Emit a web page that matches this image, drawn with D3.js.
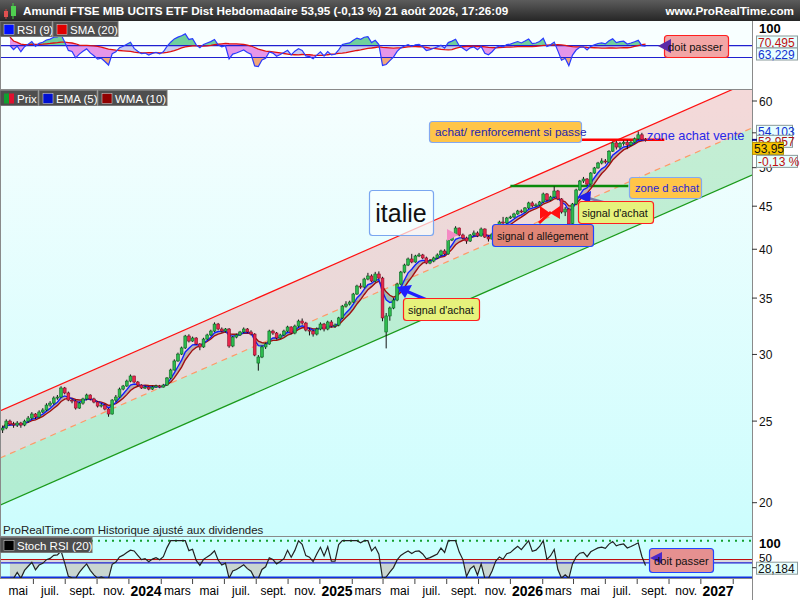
<!DOCTYPE html>
<html>
<head>
<meta charset="utf-8">
<script src="https://cdn.jsdelivr.net/npm/d3@7"></script>
<style>
  body { margin: 0; background: #fff; }
  svg { display: block; font-family: "Liberation Sans", Arial, sans-serif; }
</style>
</head>
<body>
<svg id="chart" width="800" height="600"></svg>
<script>
// Weekly candles, Amundi FTSE MIB.
const firstWeek = new Date(Date.UTC(2023, 3, 3));

const closes = [
  24.53, 25.00, 24.80, 24.73, 24.87, 24.73, 25.00, 25.21, 25.49, 25.28,
  25.63, 25.77, 26.12, 26.26, 26.63, 26.70, 27.37, 27.00, 26.48, 26.41,
  25.91, 26.26, 26.56, 26.85, 26.56, 26.34, 26.05, 26.12, 25.84, 25.49,
  26.48, 26.70, 27.29, 27.52, 27.89, 28.28, 27.82, 27.59, 27.37, 27.44,
  27.29, 27.44, 27.52, 27.44, 27.59, 28.13, 28.75, 29.47, 30.03, 30.54,
  31.55, 31.12, 31.38, 30.87, 30.62, 31.29, 31.64, 31.98, 32.60, 32.16,
  31.98, 32.16, 30.70, 31.46, 31.64, 31.90, 32.16, 31.90, 31.72, 29.95,
  29.79, 30.62, 30.87, 31.98, 31.81, 31.38, 31.64, 31.98, 32.34, 31.81,
  32.42, 32.87, 32.69, 32.07, 31.98, 31.72, 32.16, 32.60, 32.16, 32.78,
  32.42, 32.51, 33.15, 34.24, 34.43, 34.62, 35.39, 36.17, 36.07, 36.87,
  37.18, 36.67, 37.38, 36.97, 33.15, 33.33, 34.06, 34.81, 36.37, 37.58,
  38.31, 38.95, 38.63, 39.27, 39.38, 39.06, 38.52, 38.73, 39.06, 39.38,
  39.81, 39.49, 41.02, 41.59, 42.39, 41.59, 41.25, 40.91, 41.59, 41.82,
  41.48, 42.28, 41.36, 41.14, 41.70, 42.63, 43.09, 42.98, 43.57, 43.69,
  44.05, 44.41, 44.29, 44.78, 45.40, 45.03, 45.15, 45.52, 46.53, 45.77,
  46.15, 46.91, 45.90, 44.29, 44.65, 42.86, 45.27, 47.04, 48.21, 48.47,
  47.81, 49.27, 49.96, 50.64, 50.92, 50.78, 52.30, 53.50, 52.90, 53.40,
  53.60, 53.20, 53.60, 54.10, 54.70, 54.02, 53.95
];
const opens = [
  24.40, 24.53, 25.00, 24.80, 24.73, 24.87, 24.73, 25.00, 25.21, 25.49,
  25.28, 25.63, 25.77, 26.12, 26.26, 26.63, 26.70, 27.37, 27.00, 26.48,
  26.41, 25.91, 26.26, 26.56, 26.85, 26.56, 26.34, 26.05, 26.12, 25.84,
  25.49, 26.48, 26.70, 27.29, 27.52, 27.89, 28.28, 27.82, 27.59, 27.37,
  27.44, 27.29, 27.44, 27.52, 27.44, 27.59, 28.13, 28.75, 29.47, 30.03,
  30.54, 31.55, 31.12, 31.38, 30.87, 30.62, 31.29, 31.64, 31.98, 32.60,
  32.16, 31.98, 32.16, 30.70, 31.46, 31.64, 31.90, 32.16, 31.90, 31.72,
  29.30, 29.79, 30.62, 30.87, 31.98, 31.81, 31.38, 31.64, 31.98, 32.34,
  31.81, 32.42, 32.87, 32.69, 32.07, 31.98, 31.72, 32.16, 32.60, 32.16,
  32.78, 32.42, 32.51, 33.15, 34.24, 34.43, 34.62, 35.39, 36.17, 36.07,
  36.87, 37.18, 36.67, 37.38, 36.97, 31.90, 33.33, 34.06, 34.81, 36.37,
  37.58, 38.31, 38.95, 38.63, 39.27, 39.38, 39.06, 38.52, 38.73, 39.06,
  39.38, 39.81, 39.49, 41.02, 41.59, 42.39, 41.59, 41.25, 40.91, 41.59,
  41.82, 41.48, 42.28, 41.36, 41.14, 41.70, 42.63, 43.09, 42.98, 43.57,
  43.69, 44.05, 44.41, 44.29, 44.78, 45.40, 45.03, 45.15, 45.52, 46.53,
  45.77, 46.15, 46.91, 45.90, 44.29, 44.65, 42.90, 45.27, 47.04, 48.21,
  48.47, 47.81, 49.27, 49.96, 50.64, 50.92, 50.78, 52.30, 53.50, 52.90,
  53.40, 53.60, 53.20, 53.60, 54.10, 54.70, 54.02
];
const highs = [
  24.70, 25.12, 25.10, 24.95, 25.00, 24.95, 25.10, 25.35, 25.62, 25.55,
  25.75, 25.90, 26.25, 26.40, 26.75, 26.85, 27.50, 27.45, 27.10, 26.60,
  26.50, 26.35, 26.65, 26.95, 26.90, 26.65, 26.40, 26.25, 26.20, 25.90,
  26.55, 26.85, 27.40, 27.60, 28.00, 28.40, 28.30, 27.90, 27.65, 27.55,
  27.50, 27.55, 27.62, 27.60, 27.68, 28.20, 28.85, 29.60, 30.15, 30.65,
  31.65, 31.70, 31.50, 31.45, 30.95, 31.40, 31.75, 32.10, 32.75, 32.70,
  32.30, 32.25, 32.25, 31.55, 31.75, 32.00, 32.30, 32.25, 32.05, 31.80,
  29.95, 30.75, 31.00, 32.10, 32.10, 31.90, 31.75, 32.10, 32.45, 32.40,
  32.55, 33.00, 33.10, 32.80, 32.25, 32.10, 32.30, 32.75, 32.70, 32.90,
  32.95, 32.65, 33.25, 34.35, 34.70, 34.75, 35.50, 36.30, 36.45, 37.00,
  37.50, 37.35, 37.60, 37.65, 37.10, 33.60, 34.20, 35.00, 36.50, 37.70,
  38.45, 39.10, 39.50, 39.40, 39.60, 39.50, 39.20, 38.95, 39.20, 39.55,
  39.95, 40.00, 41.15, 41.80, 42.60, 42.45, 41.75, 41.40, 41.70, 42.10,
  42.00, 42.45, 42.35, 41.50, 41.85, 42.80, 43.25, 43.70, 43.70, 43.85,
  44.20, 44.55, 44.60, 44.90, 45.55, 45.60, 45.35, 45.65, 46.70, 46.65,
  46.30, 47.50, 47.05, 46.00, 44.90, 44.80, 45.40, 47.20, 48.35, 48.75,
  48.60, 49.40, 50.10, 50.80, 51.30, 51.20, 52.45, 53.70, 53.80, 53.65,
  53.85, 53.90, 53.80, 54.30, 55.20, 55.00, 54.20
];
const lows = [
  24.20, 24.45, 24.70, 24.55, 24.60, 24.55, 24.65, 24.90, 25.10, 25.15,
  25.20, 25.55, 25.70, 26.00, 26.15, 26.50, 26.65, 26.90, 26.40, 26.25,
  25.80, 25.85, 26.15, 26.45, 26.45, 26.25, 25.95, 25.95, 25.75, 25.30,
  25.45, 26.35, 26.65, 27.20, 27.45, 27.80, 27.75, 27.50, 27.30, 27.30,
  27.20, 27.22, 27.38, 27.35, 27.40, 27.55, 28.05, 28.70, 29.40, 29.95,
  30.45, 31.00, 31.05, 30.80, 30.35, 30.55, 31.20, 31.55, 31.90, 32.05,
  31.85, 31.85, 30.55, 30.60, 31.35, 31.55, 31.80, 31.80, 31.60, 29.85,
  28.70, 29.70, 30.45, 30.80, 31.65, 31.25, 31.30, 31.55, 31.90, 31.70,
  31.70, 32.30, 32.55, 31.95, 31.60, 31.50, 31.60, 32.05, 31.95, 32.05,
  32.30, 32.25, 32.40, 33.05, 34.10, 34.30, 34.55, 35.30, 35.90, 35.95,
  36.75, 36.55, 36.55, 36.85, 32.85, 30.50, 32.90, 33.95, 34.70, 36.25,
  37.45, 38.20, 38.50, 38.55, 39.15, 38.95, 38.40, 38.40, 38.60, 38.95,
  39.25, 39.35, 39.40, 40.90, 41.50, 41.45, 41.10, 40.60, 40.80, 41.45,
  41.35, 41.40, 41.25, 40.85, 41.05, 41.60, 42.50, 42.85, 42.90, 43.45,
  43.55, 43.95, 44.15, 44.20, 44.65, 44.85, 44.90, 45.05, 45.40, 45.60,
  45.65, 46.05, 45.75, 44.10, 43.80, 41.70, 42.80, 45.15, 46.95, 47.95,
  47.60, 47.70, 49.15, 49.85, 50.45, 50.55, 50.70, 52.20, 52.55, 52.60,
  53.10, 52.60, 53.05, 53.45, 53.95, 53.85, 53.70
];

// regression channel drawn on the chart (two ends)
const channelDates = [new Date(Date.UTC(2023, 2, 29)), new Date(Date.UTC(2027, 2, 9))];
const channelUpper = [25.7, 63.4];
const channelLower = [19.87, 49.0];

// horizontal drawn levels
const levelNames = ['zone achat vente', 'zone d achat'];
const levelPrices = [53.98, 47.55];
const levelStarts = [new Date(Date.UTC(2026, 3, 17)), new Date(Date.UTC(2025, 11, 1))];
const levelEnds = [new Date(Date.UTC(2026, 8, 22)), new Date(Date.UTC(2026, 6, 15))];

const priceTicks = [20, 25, 30, 35, 40, 45, 50, 55, 60];
const priceTickLabels = [20, 25, 30, 35, 40, 45, 50, 60];
const monthNames = ['janv.', 'févr.', 'mars', 'avr.', 'mai', 'juin', 'juil.', 'août', 'sept.', 'oct.', 'nov.', 'déc.'];
const lastLabels = { ema: '54,103', wma: '53,957', price: '53,95', change: '-0,13 %', sma: '70,495', rsi: '63,229', stoch: '28,184' };

// ---------------------------------------------------------------------------
const dates = closes.map((_, i) => d3.utcDay.offset(firstWeek, 7 * i));

const svg = d3.select('#chart');
const defs = svg.append('defs');
const plotRight = 752;
const rsiTop = 21, rsiBottom = 89;
const mainTop = 90, mainBottom = 536;
const stTop = 537, stBottom = 578;

const x = d3.scaleUtc().domain(channelDates).range([0, plotRight]);
const y = d3.scaleLog().domain([20, 60]).range([502.7, 101]);
const yRsi = d3.scaleLinear().domain([0, 100]).range([87, 28]);
const ySt = d3.scaleLinear().domain([0, 100]).range([578.3, 540.7]);

// --- indicators -------------------------------------------------------------
function ema(vals, n) {
  const k = 2 / (n + 1); let prev = vals[0];
  return vals.map((v, i) => (prev = i ? prev + k * (v - prev) : v));
}
function wma(vals, n) {
  return vals.map((_, i) => {
    let s = 0, w = 0;
    for (let j = Math.max(0, i - n + 1), k = 1; j <= i; j++, k++) { s += vals[j] * k; w += k; }
    return s / w;
  });
}
function rsi(vals, n) {
  const out = [null]; let ag = 0, al = 0;
  for (let i = 1; i < vals.length; i++) {
    const ch = vals[i] - vals[i - 1];
    const k = Math.min(i, n);
    ag += (Math.max(ch, 0) - ag) / k;
    al += (Math.max(-ch, 0) - al) / k;
    out.push(al === 0 ? 100 : 100 - 100 / (1 + ag / al));
  }
  return out;
}
const ema5 = ema(closes, 5);
const wma10 = wma(closes, 10);
const rsi9 = rsi(closes, 9);
const smaRsi = rsi9.map((_, i) => {
  const w = rsi9.slice(Math.max(1, i - 19), i + 1).filter(v => v != null);
  return w.length ? d3.mean(w) : null;
});
const stoch = rsi9.map((v, i) => {
  if (v == null) return null;
  const w = rsi9.slice(Math.max(1, i - 19), i + 1);
  const lo = d3.min(w), hi = d3.max(w);
  return hi === lo ? 50 : (v - lo) / (hi - lo) * 100;
});

// --- backgrounds --------------------------------------------------------------
const g1 = defs.append('linearGradient').attr('id', 'mainBg').attr('x1', 0).attr('y1', 0).attr('x2', 0).attr('y2', 1);
g1.append('stop').attr('offset', '0%').attr('stop-color', '#f6fefe');
g1.append('stop').attr('offset', '100%').attr('stop-color', '#ccfdfd');
const g2 = defs.append('linearGradient').attr('id', 'titleBg').attr('x1', 0).attr('y1', 0).attr('x2', 0).attr('y2', 1);
g2.append('stop').attr('offset', '0%').attr('stop-color', '#5c5c5c');
g2.append('stop').attr('offset', '100%').attr('stop-color', '#262626');

svg.append('rect').attr('width', 800).attr('height', 600).attr('fill', '#fff');
svg.append('rect').attr('x', 0).attr('y', rsiTop).attr('width', plotRight).attr('height', rsiBottom - rsiTop).attr('fill', '#f8ffff');
svg.append('rect').attr('x', 0).attr('y', mainTop).attr('width', plotRight).attr('height', mainBottom - mainTop).attr('fill', 'url(#mainBg)');
svg.append('rect').attr('x', 0).attr('y', stTop).attr('width', plotRight).attr('height', stBottom - stTop).attr('fill', '#ccffff');

function clipRect(id, x0, y0, w, h) {
  defs.append('clipPath').attr('id', id).append('rect').attr('x', x0).attr('y', y0).attr('width', w).attr('height', h);
}
clipRect('clipMain', 0, mainTop, plotRight, mainBottom - mainTop);
clipRect('clipRsi', 0, rsiTop, plotRight, rsiBottom - rsiTop);
clipRect('clipRsiHi', 0, rsiTop, plotRight, yRsi(70) - rsiTop);
clipRect('clipRsiLo', 0, yRsi(50), plotRight, rsiBottom - yRsi(50));
clipRect('clipStLo', 0, ySt(50), plotRight, stBottom - ySt(50));

// --- RSI panel -----------------------------------------------------------------
const rsiG = svg.append('g').attr('clip-path', 'url(#clipRsi)');
const ri = d3.range(2, closes.length);
const rx = i => x(dates[i]);
defs.append('clipPath').attr('id', 'aboveSma').append('path')
  .attr('d', d3.area().x(rx).y0(rsiTop).y1(i => yRsi(smaRsi[i]))(ri));
defs.append('clipPath').attr('id', 'belowSma').append('path')
  .attr('d', d3.area().x(rx).y0(i => yRsi(smaRsi[i])).y1(rsiBottom)(ri));
const between = d3.area().x(rx).y0(i => yRsi(smaRsi[i])).y1(i => yRsi(rsi9[i]));
rsiG.append('path').attr('d', between(ri)).attr('fill', '#c9cdf0').attr('clip-path', 'url(#aboveSma)');
rsiG.append('path').attr('d', between(ri)).attr('fill', '#e596e8').attr('clip-path', 'url(#belowSma)');
rsiG.append('path').attr('d', d3.area().x(rx).y0(yRsi(70)).y1(i => yRsi(rsi9[i]))(ri))
  .attr('fill', '#6fd09c').attr('clip-path', 'url(#clipRsiHi)');
rsiG.append('path').attr('d', d3.area().x(rx).y0(yRsi(50)).y1(i => yRsi(rsi9[i]))(ri))
  .attr('fill', '#f2a77a').attr('clip-path', 'url(#clipRsiLo)');
[70, 50].forEach(v => rsiG.append('line').attr('x1', 0).attr('x2', plotRight)
  .attr('y1', yRsi(v)).attr('y2', yRsi(v)).attr('stroke', '#2020d0').attr('stroke-width', 1.2));
rsiG.append('path').attr('d', d3.line().x(rx).y(i => yRsi(smaRsi[i]))(ri))
  .attr('fill', 'none').attr('stroke', '#e01010').attr('stroke-width', 1.3);
rsiG.append('path').attr('d', d3.line().x(rx).y(i => yRsi(rsi9[i]))(ri))
  .attr('fill', 'none').attr('stroke', '#2a3cff').attr('stroke-width', 1.2);

// --- main panel ------------------------------------------------------------------
const mainG = svg.append('g').attr('clip-path', 'url(#clipMain)');
const mid = channelUpper.map((u, i) => Math.sqrt(u * channelLower[i]));
const ci = [0, 1];
mainG.append('path').attr('d', d3.area().x(i => x(channelDates[i])).y0(i => y(mid[i])).y1(i => y(channelUpper[i]))(ci))
  .attr('fill', 'rgba(242,180,180,0.5)');
mainG.append('path').attr('d', d3.area().x(i => x(channelDates[i])).y0(i => y(channelLower[i])).y1(i => y(mid[i]))(ci))
  .attr('fill', 'rgba(150,222,170,0.5)');
const cLine = arr => d3.line().x(i => x(channelDates[i])).y(i => y(arr[i]))(ci);
mainG.append('path').attr('d', cLine(channelUpper)).attr('stroke', '#ff1010').attr('stroke-width', 1.2).attr('fill', 'none');
mainG.append('path').attr('d', cLine(mid)).attr('stroke', '#ff9966').attr('stroke-width', 1.2).attr('stroke-dasharray', '6,5').attr('fill', 'none');
mainG.append('path').attr('d', cLine(channelLower)).attr('stroke', '#1a9a1a').attr('stroke-width', 1.2).attr('fill', 'none');

// drawn levels
const levelColors = ['#ff0000', '#0a8a0a'];
levelPrices.forEach((p, i) => {
  mainG.append('line').attr('x1', x(levelStarts[i])).attr('x2', x(levelEnds[i]))
    .attr('y1', y(p)).attr('y2', y(p)).attr('stroke', levelColors[i]).attr('stroke-width', 2.5);
});

// moving averages
const ai = d3.range(closes.length);
mainG.append('path').attr('d', d3.area().x(rx).y0(i => y(wma10[i])).y1(i => y(ema5[i]))(ai))
  .attr('fill', 'rgba(110,110,110,0.38)');
mainG.append('path').attr('d', d3.line().x(rx).y(i => y(wma10[i]))(ai))
  .attr('fill', 'none').attr('stroke', '#a01010').attr('stroke-width', 1.4);
mainG.append('path').attr('d', d3.line().x(rx).y(i => y(ema5[i]))(ai))
  .attr('fill', 'none').attr('stroke', '#1020ff').attr('stroke-width', 1.4);

// candles
const candles = mainG.append('g').selectAll('g').data(ai).join('g');
candles.append('line')
  .attr('x1', i => rx(i)).attr('x2', i => rx(i))
  .attr('y1', i => y(highs[i])).attr('y2', i => y(lows[i]))
  .attr('stroke', '#111').attr('stroke-width', 1);
candles.append('rect')
  .attr('x', i => rx(i) - 1.4).attr('width', 2.8)
  .attr('y', i => y(Math.max(opens[i], closes[i])))
  .attr('height', i => Math.max(1, Math.abs(y(opens[i]) - y(closes[i]))))
  .attr('fill', i => closes[i] >= opens[i] ? '#2dbb4e' : '#e8264d')
  .attr('stroke', i => closes[i] >= opens[i] ? '#0e6a26' : '#8a1028')
  .attr('stroke-width', 0.6);

// --- annotations --------------------------------------------------------------------
function box(g, x0, y0, w, h, fill, stroke) {
  g.append('rect').attr('x', x0 + 0.5).attr('y', y0 + 0.5).attr('width', w).attr('height', h)
    .attr('rx', 3).attr('fill', fill).attr('stroke', stroke).attr('stroke-width', 1.2);
}
function label(g, tx, ty, text, size, color) {
  g.append('text').attr('x', tx).attr('y', ty).attr('font-size', size).attr('fill', color).text(text);
}
const ann = svg.append('g').attr('clip-path', 'url(#clipMain)');

box(ann, 369, 190, 64, 45, 'rgba(250,255,255,0.7)', '#7aa6f0');
ann.append('text').attr('x', 401).attr('y', 222).attr('text-anchor', 'middle').attr('font-size', 25).attr('fill', '#111').text('italie');

box(ann, 429, 121, 152, 21, '#ffc548', '#84a8f0');
label(ann, 435, 135.5, 'achat/ renforcement si passe', 11.8, '#2424b0');

label(ann, 647, 139.5, levelNames[0], 12.8, '#2828e8');

box(ann, 629, 177, 72, 21, '#ffc548', '#84a8f0');
label(ann, 635, 192, levelNames[1], 11.2, '#2424d8');

// pink marker and red sell marker
ann.append('path').attr('d', 'M447,229 L458,235 L447,241 Z').attr('fill', '#f48ac4');
ann.append('line').attr('x1', 539).attr('y1', 223).attr('x2', 551).attr('y2', 212).attr('stroke', '#ff1010').attr('stroke-width', 3);
ann.append('path').attr('d', 'M540,206 L550,213 L540,219 Z M560,206 L550,213 L560,219 Z').attr('fill', '#ff1010');

box(ann, 492, 224, 101, 22, '#e08576', '#2244ff');
label(ann, 497, 240, 'signal d allégement', 10.6, '#111');

// upper buy signal
ann.append('line').attr('x1', 610).attr('y1', 204).attr('x2', 588).attr('y2', 198).attr('stroke', '#7a7aa8').attr('stroke-width', 2.5);
ann.append('path').attr('d', 'M577,197 L591,191 L590,203 Z').attr('fill', '#2020e8');
box(ann, 578, 201, 75, 22, '#e6f27c', '#ff2020');
label(ann, 582, 217, 'signal d\'achat', 10.8, '#111');

// lower buy signal
ann.append('line').attr('x1', 434).attr('y1', 303).attr('x2', 406).attr('y2', 291).attr('stroke', '#2020ff').attr('stroke-width', 3);
ann.append('path').attr('d', 'M397,287 L412,285 L405,298 Z').attr('fill', '#2020ff');
box(ann, 403, 298, 76, 22, '#e6f27c', '#ff2020');
label(ann, 408, 314, 'signal d\'achat', 10.8, '#111');

label(svg, 3, 534, 'ProRealTime.com  Historique ajusté aux dividendes', 11.5, '#222');

// --- Stoch RSI panel -------------------------------------------------------------------
const stG = svg.append('g');
const si = d3.range(2, closes.length);
stG.append('rect').attr('x', 0).attr('y', ySt(50)).attr('width', plotRight).attr('height', ySt(41) - ySt(50))
  .attr('fill', 'rgba(238,170,180,0.45)');
stG.append('path').attr('d', d3.area().x(rx).y0(ySt(50)).y1(i => ySt(stoch[i]))(si))
  .attr('fill', '#c9d6d0').attr('clip-path', 'url(#clipStLo)');
stG.append('line').attr('x1', 0).attr('x2', plotRight).attr('y1', ySt(100)).attr('y2', ySt(100))
  .attr('stroke', '#14a030').attr('stroke-width', 2).attr('stroke-dasharray', '2,5');
stG.append('line').attr('x1', 0).attr('x2', plotRight).attr('y1', ySt(50)).attr('y2', ySt(50)).attr('stroke', '#c01010').attr('stroke-width', 1.2);
stG.append('line').attr('x1', 0).attr('x2', plotRight).attr('y1', ySt(41)).attr('y2', ySt(41)).attr('stroke', '#2020d0').attr('stroke-width', 1.2);
stG.append('line').attr('x1', 0).attr('x2', plotRight).attr('y1', ySt(0) - 1).attr('y2', ySt(0) - 1).attr('stroke', '#1030e0').attr('stroke-width', 1.5);
stG.append('path').attr('d', d3.line().x(rx).y(i => ySt(stoch[i]))(si))
  .attr('fill', 'none').attr('stroke', '#222').attr('stroke-width', 1.2);

// "doit passer" boxes
box(svg, 664, 35, 64, 22, '#f2a6a6', '#ff2020');
svg.append('path').attr('d', 'M658,46 L671,39 L671,53 Z').attr('fill', '#5a2aa8');
label(svg, 668, 51, 'doit passer', 11.2, '#111');
box(svg, 649, 548, 64, 24, '#e59090', '#2244ff');
svg.append('path').attr('d', 'M650,558 L662,552 L662,564 Z').attr('fill', '#4a28c8');
label(svg, 654, 565, 'doit passer', 11.2, '#111');

// --- frames and axes ---------------------------------------------------------------------
svg.append('rect').attr('x', plotRight + 1).attr('y', rsiTop).attr('width', 800 - plotRight).attr('height', stBottom - rsiTop).attr('fill', '#fff');
svg.append('rect').attr('x', 0).attr('y', stBottom).attr('width', 800).attr('height', 600 - stBottom).attr('fill', '#fff');
const frame = svg.append('g').attr('stroke', '#8a8a8a').attr('stroke-width', 1);
[rsiBottom + 0.5, mainBottom + 0.5, stBottom + 0.5].forEach(v =>
  frame.append('line').attr('x1', 0).attr('x2', plotRight).attr('y1', v).attr('y2', v));
frame.append('line').attr('x1', plotRight + 0.5).attr('x2', plotRight + 0.5).attr('y1', rsiTop).attr('y2', 600);
frame.append('line').attr('x1', 0.5).attr('x2', 0.5).attr('y1', rsiTop).attr('y2', stBottom);

// price axis
const yAxis = svg.append('g').attr('font-size', 12);
priceTicks.forEach(v => {
  yAxis.append('line').attr('x1', plotRight).attr('x2', plotRight + 5).attr('y1', y(v)).attr('y2', y(v)).attr('stroke', '#333');
});
priceTickLabels.forEach(v => {
  yAxis.append('text').attr('x', plotRight + 7).attr('y', y(v) + 4.5).attr('fill', '#111').text(v);
});
function valueBox(yc, w, text, color, fill) {
  svg.append('rect').attr('x', plotRight + 4.5).attr('y', yc - 6.5).attr('width', w).attr('height', 12)
    .attr('fill', fill).attr('stroke', '#8a9a9a');
  svg.append('text').attr('x', plotRight + 6).attr('y', yc + 4.5).attr('font-size', 12).attr('fill', color).text(text);
}
valueBox(y(54.103) - 7, 36, lastLabels.ema, '#1030d0', '#e8ffff');
valueBox(y(53.957) + 2, 36, lastLabels.wma, '#b01010', '#e8ffff');
svg.append('line').attr('x1', plotRight).attr('x2', plotRight + 5).attr('y1', y(53.95)).attr('y2', y(53.95)).attr('stroke', '#101080').attr('stroke-width', 2);
svg.append('rect').attr('x', plotRight + 0.5).attr('y', y(53.95) + 2.5).attr('width', 31).attr('height', 12).attr('fill', '#f8c400').attr('stroke', '#b09000');
svg.append('text').attr('x', plotRight + 2).attr('y', y(53.95) + 13).attr('font-size', 12).attr('fill', '#111').text(lastLabels.price);
valueBox(y(53.95) + 22, 41, lastLabels.change, '#c01010', '#e8ffff');

// rsi + stoch scale labels
svg.append('text').attr('x', plotRight + 7).attr('y', yRsi(100) + 5).attr('font-size', 13).attr('font-weight', 'bold').text('100');
valueBox(42.5, 41, lastLabels.sma, '#c01010', '#e8ffff');
valueBox(54.5, 41, lastLabels.rsi, '#1030d0', '#e8ffff');
svg.append('text').attr('x', plotRight + 7).attr('y', ySt(100) + 7).attr('font-size', 13).attr('font-weight', 'bold').text('100');
svg.append('text').attr('x', plotRight + 7).attr('y', 562).attr('font-size', 11.5).text('50');
svg.append('line').attr('x1', plotRight).attr('x2', plotRight + 5).attr('y1', ySt(28.184)).attr('y2', ySt(28.184)).attr('stroke', '#333');
valueBox(ySt(28.184) + 1, 41, lastLabels.stoch, '#111', '#e8ffff');

// time axis
const xAxis = svg.append('g');
d3.utcMonth.range(new Date(Date.UTC(2023, 3, 1)), new Date(Date.UTC(2027, 2, 1))).forEach(m => {
  const mx = x(m), mo = m.getUTCMonth();
  if (mx < 2 || mx > 740) return;
  if (mo % 2 === 1) {
    xAxis.append('line').attr('x1', mx).attr('x2', mx).attr('y1', 579).attr('y2', 584).attr('stroke', '#444');
  } else if (mo === 0) {
    xAxis.append('text').attr('x', mx + 1).attr('y', 596).attr('text-anchor', 'middle')
      .attr('font-size', 14).attr('font-weight', 'bold').text(m.getUTCFullYear());
  } else {
    xAxis.append('text').attr('x', mx + 1).attr('y', 595).attr('text-anchor', 'middle')
      .attr('font-size', 12).text(monthNames[mo]);
  }
});

// --- title bar and legends -----------------------------------------------------------------
svg.append('rect').attr('width', 800).attr('height', rsiTop).attr('fill', 'url(#titleBg)');
svg.append('line').attr('x1', 6).attr('x2', 6).attr('y1', 9).attr('y2', 19).attr('stroke', '#c44');
svg.append('rect').attr('x', 4).attr('y', 11).attr('width', 4).attr('height', 6).attr('fill', '#e05050');
svg.append('line').attr('x1', 13).attr('x2', 13).attr('y1', 3).attr('y2', 19).attr('stroke', '#4c4');
svg.append('rect').attr('x', 11).attr('y', 6).attr('width', 5).attr('height', 10).attr('fill', '#50d050');
svg.append('text').attr('x', 23).attr('y', 15).attr('font-size', 11.7).attr('font-weight', 'bold').attr('fill', '#fff')
  .text('Amundi FTSE MIB UCITS ETF Dist Hebdomadaire 53,95 (-0,13 %) 21 août 2026, 17:26:09');
svg.append('text').attr('x', 794).attr('y', 15).attr('text-anchor', 'end').attr('font-size', 11.7).attr('font-weight', 'bold').attr('fill', '#fff')
  .text('www.ProRealTime.com');

function legend(items, top) {
  let lx = 0;
  items.forEach(it => {
    const g = svg.append('g');
    g.append('rect').attr('x', lx).attr('y', top).attr('width', it.w).attr('height', 15).attr('fill', '#4e4e4e').attr('stroke', '#777');
    if (it.colors.length === 2) {
      g.append('rect').attr('x', lx + 4).attr('y', top + 3).attr('width', 5).attr('height', 10).attr('fill', it.colors[0]);
      g.append('rect').attr('x', lx + 9).attr('y', top + 3).attr('width', 5).attr('height', 10).attr('fill', it.colors[1]);
    } else {
      g.append('rect').attr('x', lx + 4).attr('y', top + 3).attr('width', 10).attr('height', 10).attr('fill', it.colors[0]).attr('stroke', '#ddd').attr('stroke-width', 0.5);
    }
    g.append('text').attr('x', lx + 17).attr('y', top + 12).attr('font-size', 11.5).attr('fill', '#fff').text(it.name);
    lx += it.w + 1;
  });
}
legend([{ name: 'RSI (9)', colors: ['#0010ff'], w: 52 }, { name: 'SMA (20)', colors: ['#e00000'], w: 65 }], rsiTop + 0.5);
legend([{ name: 'Prix', colors: ['#10a030', '#e01030'], w: 38 }, { name: 'EMA (5)', colors: ['#0010d0'], w: 58 }, { name: 'WMA (10)', colors: ['#900000'], w: 69 }], mainTop + 0.5);
legend([{ name: 'Stoch RSI (20)', colors: ['#000'], w: 92 }], stTop + 0.5);
</script>
</body>
</html>
